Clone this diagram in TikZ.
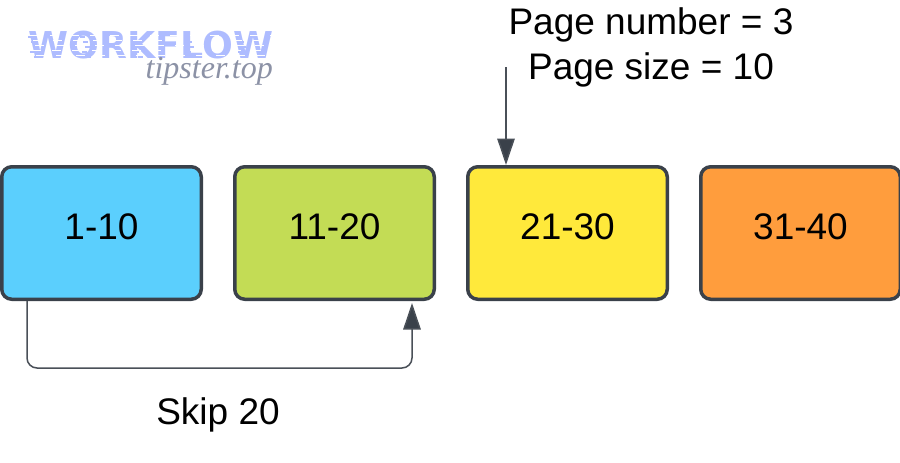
\documentclass[tikz,border=0pt]{standalone}
\usepackage{fontspec}
\setmainfont{Liberation Sans}
\newfontfamily\logofont{DejaVu Sans}
\newfontfamily\siteroman{Liberation Serif}
\usetikzlibrary{arrows.meta}
\usetikzlibrary{positioning}
\definecolor{edgegray}{HTML}{3A414A}
\definecolor{pageblue}{HTML}{5BCFFD}
\definecolor{pagegreen}{HTML}{C3DC55}
\definecolor{pageyellow}{HTML}{FFE93B}
\definecolor{pageorange}{HTML}{FF9D3D}
\definecolor{logoblue}{HTML}{AEBCFF}
\definecolor{sitegray}{HTML}{8C92A6}

\begin{document}
\begin{tikzpicture}[
    x=1pt, y=-1pt,
    node distance=30pt,
    pagebox/.style = {shape=rectangle, rounded corners=10pt,
      draw=edgegray, line width=3.5pt, align=center,
      minimum width=199.5pt, minimum height=132.5pt, text depth=12pt,
      font=\fontsize{37}{45}\selectfont},
    caption/.style = {align=center, font=\fontsize{37}{45}\selectfont},
    link/.style = {draw=edgegray!92!white, line width=1.5pt,
      -{Triangle[length=26.5pt,width=17.5pt,fill=edgegray]}}]
    \useasboundingbox (0,0) rectangle (900,463);
    \node[pagebox, fill=pageblue] (first) at (101.5,233) {1-10};
    \node[pagebox, fill=pagegreen, right=of first] (second) {11-20};
    \node[pagebox, fill=pageyellow, right=of second] (third) {21-30};
    \node[pagebox, fill=pageorange, right=of third] (fourth) {31-40};
    \node[caption] (pageinfo) at (651,47) {Page number = 3\\Page size = 10};
    \node[caption] (skiplabel) at (218,415) {Skip 20};
    % logo
    \node[text=logoblue, font=\logofont\bfseries\fontsize{37}{37}\selectfont,
      inner sep=0pt, xscale=.98, transform shape] (logo) at (151,45) {WORKFLOW};
    \foreach \ypos/\xoff in {35/0, 40/3, 45/5, 50/2, 55/6} {
      \draw[white, line width=.8pt, dash pattern=on 9pt off 11pt]
        (30+\xoff,\ypos) -- (272,\ypos);
      \draw[logoblue, line width=1.2pt, dash pattern=on 5pt off 47pt]
        (28+\xoff,\ypos+2) -- (275,\ypos+2);
    }
    \node[text=sitegray, font=\siteroman\itshape\fontsize{32}{32}\selectfont,
      inner sep=0pt, anchor=base east] (site) at (273,78) {tipster.top};
    % connectors
    \coordinate[right=27pt of first.south west] (skipfrom);
    \coordinate[below left=2pt and 24pt of second.south east] (skipto);
    \coordinate (pagefrom) at (506,67);
    \coordinate[right=40pt of third.north west] (pageto);
    \draw[link, rounded corners=10pt] (skipfrom) -- (skipfrom |- 0,368) -- (skipto |- 0,368) -- (skipto);
    \draw[link] (pagefrom) -- (pageto);
\end{tikzpicture}
\end{document}
